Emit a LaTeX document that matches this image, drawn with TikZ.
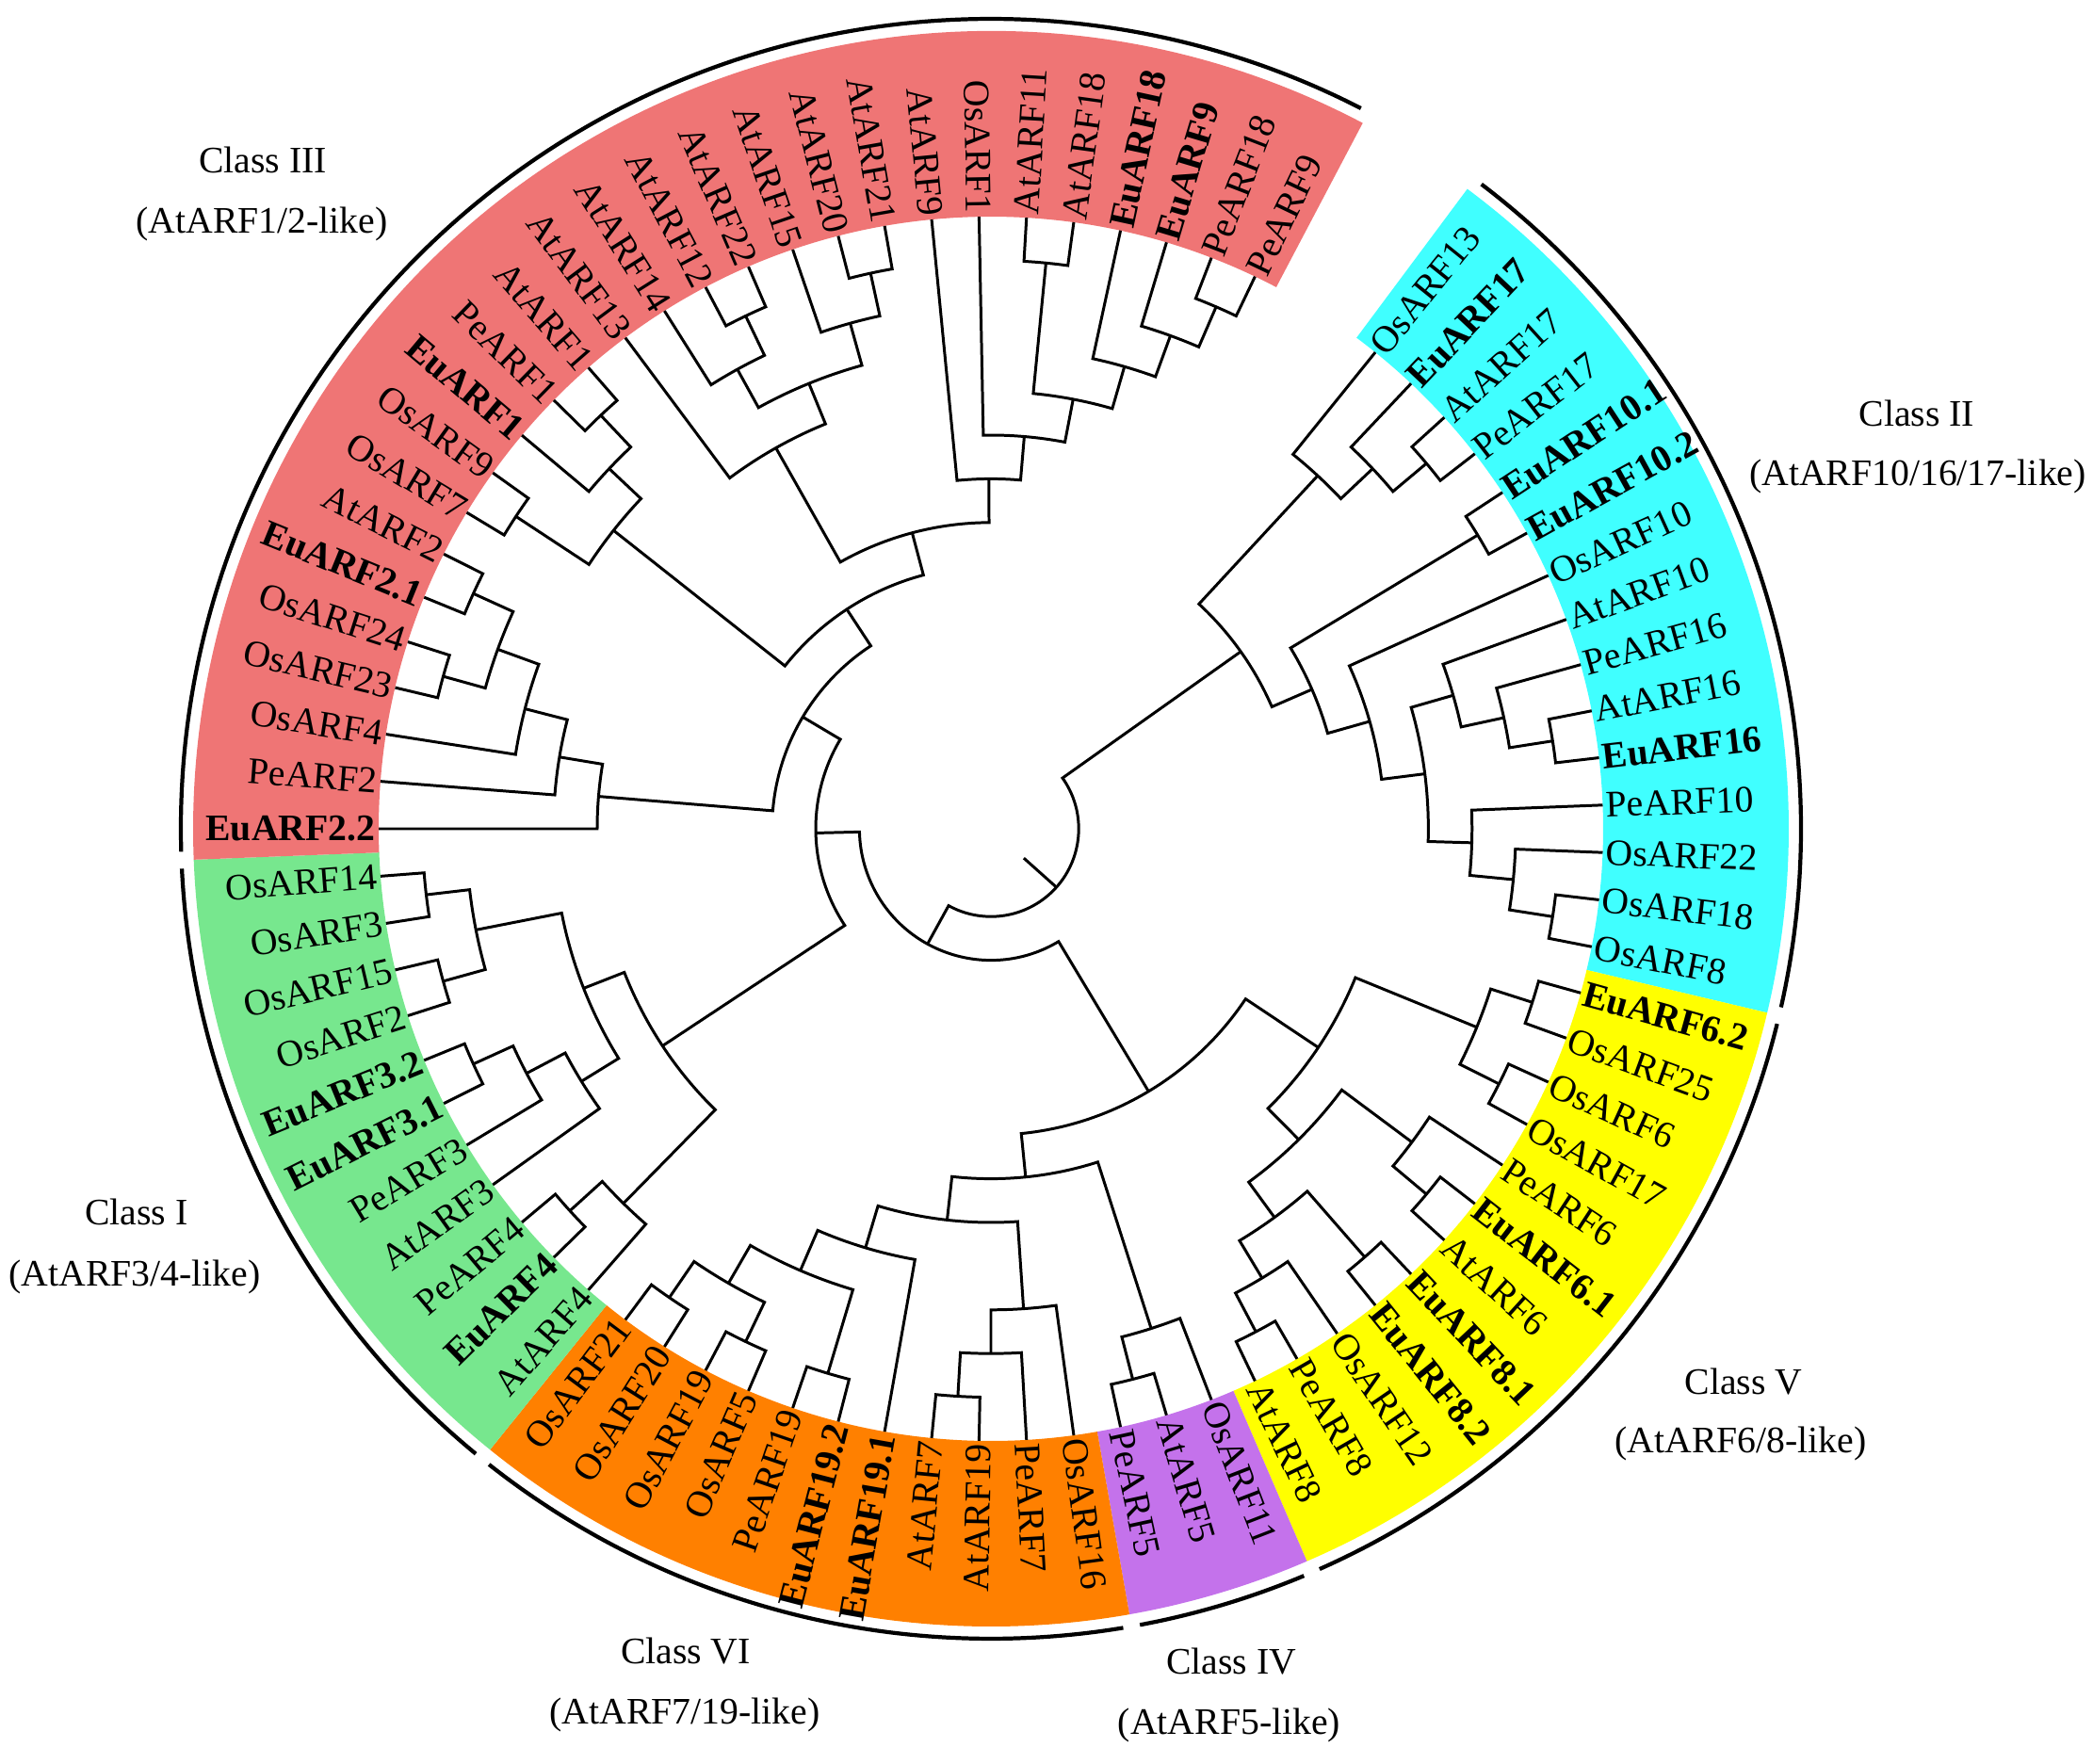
\documentclass[tikz,border=0pt]{standalone}
\usepackage{fontspec}
\setmainfont{Liberation Serif}

\definecolor{bandIII}{RGB}{239,117,117}
\definecolor{bandII}{RGB}{64,255,255}
\definecolor{bandV}{RGB}{255,255,0}
\definecolor{bandIV}{RGB}{196,114,235}
\definecolor{bandVI}{RGB}{255,128,0}
\definecolor{bandI}{RGB}{119,231,142}

\newcommand\rleaf{6.5}
\newcommand\lstep{0.464}
\newcommand\rtext{6.53}
\newcommand\rband{8.47}
\newcommand\rarc{8.6}
\newcommand\dang{4.44444}

\newcommand\leaf[3]{%
  \pgfmathsetmacro\tmpang{180-\dang*#2}%
  \expandafter\xdef\csname ang#1\endcsname{\tmpang}%
  \expandafter\xdef\csname lev#1\endcsname{0}%
  \pgfmathtruncatemacro\tmpflip{abs(mod(\tmpang+540,360)-180)>90}%
  \ifnum\tmpflip=1
    \node[lbl,anchor=east,rotate=\tmpang+180] (#1) at (\tmpang:\rtext) {#3};%
  \else
    \node[lbl,anchor=west,rotate=\tmpang] (#1) at (\tmpang:\rtext) {#3};%
  \fi}

\newcommand\clade[3]{%
  \pgfmathsetmacro\angA{\csname ang#2\endcsname}%
  \pgfmathsetmacro\angB{\csname ang#3\endcsname}%
  \pgfmathsetmacro\radA{\rleaf-\lstep*\csname lev#2\endcsname}%
  \pgfmathsetmacro\radB{\rleaf-\lstep*\csname lev#3\endcsname}%
  \pgfmathtruncatemacro\levN{max(\csname lev#2\endcsname,\csname lev#3\endcsname)+1}%
  \pgfmathsetmacro\radN{\rleaf-\lstep*\levN}%
  \pgfmathsetmacro\angN{(\angA+\angB)/2}%
  \expandafter\xdef\csname ang#1\endcsname{\angN}%
  \expandafter\xdef\csname lev#1\endcsname{\levN}%
  \coordinate (#1) at (\angN:\radN);%
  \draw[branch] (\angA:\radA) -- (\angA:\radN)
    arc[start angle=\angA, end angle=\angB, radius=\radN] -- (\angB:\radB);}

\newcommand\classband[3]{%
  \pgfmathsetmacro\bA{180-\dang*#2}%
  \pgfmathsetmacro\bB{180-\dang*#3}%
  \pgfmathsetmacro\cA{\bA-0.6}%
  \pgfmathsetmacro\cB{\bB+0.6}%
  \fill[#1] (\bA:\rleaf) arc[start angle=\bA, end angle=\bB, radius=\rleaf]
    -- (\bB:\rband) arc[start angle=\bB, end angle=\bA, radius=\rband] -- cycle;
  \draw[classarc] (\cA:\rarc) arc[start angle=\cA, end angle=\cB, radius=\rarc];}

\tikzset{
  branch/.style={line width=0.85pt},
  lbl/.style={inner sep=0pt, font=\fontsize{11.3}{13}\selectfont},
  classarc/.style={line width=1.2pt},
  classlbl/.style={inner sep=0pt, font=\fontsize{11.3}{13}\selectfont}
}

\begin{document}
\begin{tikzpicture}
\useasboundingbox (-10.52,-9.93) rectangle (11.70,8.80);

\classband{bandII}{28.5}{43.5}
\classband{bandV}{43.5}{55.5}
\classband{bandIV}{55.5}{58.5}
\classband{bandVI}{58.5}{69.5}
\classband{bandI}{69.5}{80.5}
\classband{bandIII}{80.5}{107.5}

\foreach \name/\txt [count=\p from 29] in {
  OsARF13/OsARF13, EuARF17/\textbf{EuARF17}, AtARF17/AtARF17, PeARF17/PeARF17,
  EuARF10-1/\textbf{EuARF10.1}, EuARF10-2/\textbf{EuARF10.2}, OsARF10/OsARF10,
  AtARF10/AtARF10, PeARF16/PeARF16, AtARF16/AtARF16, EuARF16/\textbf{EuARF16},
  PeARF10/PeARF10, OsARF22/OsARF22, OsARF18/OsARF18, OsARF8/OsARF8,
  EuARF6-2/\textbf{EuARF6.2}, OsARF25/OsARF25, OsARF6/OsARF6, OsARF17/OsARF17,
  PeARF6/PeARF6, EuARF6-1/\textbf{EuARF6.1}, AtARF6/AtARF6,
  EuARF8-1/\textbf{EuARF8.1}, EuARF8-2/\textbf{EuARF8.2}, OsARF12/OsARF12,
  PeARF8/PeARF8, AtARF8/AtARF8,
  OsARF11/OsARF11, AtARF5/AtARF5, PeARF5/PeARF5,
  OsARF16/OsARF16, PeARF7/PeARF7, AtARF19/AtARF19, AtARF7/AtARF7,
  EuARF19-1/\textbf{EuARF19.1}, EuARF19-2/\textbf{EuARF19.2}, PeARF19/PeARF19,
  OsARF5/OsARF5, OsARF19/OsARF19, OsARF20/OsARF20, OsARF21/OsARF21,
  AtARF4/AtARF4, EuARF4/\textbf{EuARF4}, PeARF4/PeARF4, AtARF3/AtARF3,
  PeARF3/PeARF3, EuARF3-1/\textbf{EuARF3.1}, EuARF3-2/\textbf{EuARF3.2},
  OsARF2/OsARF2, OsARF15/OsARF15, OsARF3/OsARF3, OsARF14/OsARF14,
  EuARF2-2/\textbf{EuARF2.2}, PeARF2/PeARF2, OsARF4/OsARF4, OsARF23/OsARF23,
  OsARF24/OsARF24, EuARF2-1/\textbf{EuARF2.1}, AtARF2/AtARF2, OsARF7/OsARF7,
  OsARF9/OsARF9, EuARF1/\textbf{EuARF1}, PeARF1/PeARF1, AtARF1/AtARF1,
  AtARF13/AtARF13, AtARF14/AtARF14, AtARF12/AtARF12, AtARF22/AtARF22,
  AtARF15/AtARF15, AtARF20/AtARF20, AtARF21/AtARF21, AtARF9/AtARF9,
  OsARF1/OsARF1, AtARF11/AtARF11, AtARF18/AtARF18, EuARF18/\textbf{EuARF18},
  EuARF9/\textbf{EuARF9}, PeARF18/PeARF18, PeARF9/PeARF9}
  {\leaf{\name}{\p}{\txt}}

\clade{IIa}{AtARF17}{PeARF17}
\clade{IIb}{EuARF17}{IIa}
\clade{IIc}{OsARF13}{IIb}
\clade{IId}{EuARF10-1}{EuARF10-2}
\clade{IIe}{AtARF16}{EuARF16}
\clade{IIf}{PeARF16}{IIe}
\clade{IIg}{AtARF10}{IIf}
\clade{IIh}{OsARF18}{OsARF8}
\clade{IIi}{OsARF22}{IIh}
\clade{IIj}{PeARF10}{IIi}
\clade{IIk}{IIg}{IIj}
\clade{IIl}{OsARF10}{IIk}
\clade{IIm}{IId}{IIl}
\clade{II}{IIc}{IIm}

\clade{Va}{EuARF6-2}{OsARF25}
\clade{Vb}{OsARF6}{OsARF17}
\clade{Vc}{Va}{Vb}
\clade{Vd}{EuARF6-1}{AtARF6}
\clade{Ve}{PeARF6}{Vd}
\clade{Vf}{EuARF8-1}{EuARF8-2}
\clade{Vg}{PeARF8}{AtARF8}
\clade{Vh}{OsARF12}{Vg}
\clade{Vi}{Vf}{Vh}
\clade{Vj}{Ve}{Vi}
\clade{V}{Vc}{Vj}

\clade{IVa}{AtARF5}{PeARF5}
\clade{IV}{OsARF11}{IVa}

\clade{VIa}{AtARF19}{AtARF7}
\clade{VIb}{PeARF7}{VIa}
\clade{VIc}{OsARF16}{VIb}
\clade{VId}{EuARF19-2}{PeARF19}
\clade{VIe}{OsARF5}{OsARF19}
\clade{VIf}{OsARF20}{OsARF21}
\clade{VIg}{VIe}{VIf}
\clade{VIh}{VId}{VIg}
\clade{VIi}{EuARF19-1}{VIh}
\clade{VI}{VIc}{VIi}
\clade{IVVI}{IV}{VI}
\clade{VIVVI}{V}{IVVI}

\clade{Ia}{EuARF4}{PeARF4}
\clade{Ib}{AtARF4}{Ia}
\clade{Ic}{EuARF3-1}{EuARF3-2}
\clade{Id}{PeARF3}{Ic}
\clade{Ie}{AtARF3}{Id}
\clade{If}{OsARF2}{OsARF15}
\clade{Ig}{OsARF3}{OsARF14}
\clade{Ih}{If}{Ig}
\clade{Ii}{Ie}{Ih}
\clade{I}{Ib}{Ii}

\clade{IIIa}{OsARF23}{OsARF24}
\clade{IIIb}{EuARF2-1}{AtARF2}
\clade{IIIc}{IIIa}{IIIb}
\clade{IIId}{OsARF4}{IIIc}
\clade{IIIe}{PeARF2}{IIId}
\clade{IIIf}{EuARF2-2}{IIIe}
\clade{IIIg}{OsARF7}{OsARF9}
\clade{IIIh}{PeARF1}{AtARF1}
\clade{IIIi}{EuARF1}{IIIh}
\clade{IIIj}{IIIg}{IIIi}
\clade{IIIk}{AtARF12}{AtARF22}
\clade{IIIl}{AtARF14}{IIIk}
\clade{IIIm}{AtARF20}{AtARF21}
\clade{IIIn}{AtARF15}{IIIm}
\clade{IIIo}{IIIl}{IIIn}
\clade{IIIp}{AtARF13}{IIIo}
\clade{IIIq}{AtARF11}{AtARF18}
\clade{IIIr}{PeARF18}{PeARF9}
\clade{IIIs}{EuARF9}{IIIr}
\clade{IIIt}{EuARF18}{IIIs}
\clade{IIIu}{IIIq}{IIIt}
\clade{IIIv}{OsARF1}{IIIu}
\clade{IIIw}{AtARF9}{IIIv}
\clade{IIIx}{IIIp}{IIIw}
\clade{IIIy}{IIIj}{IIIx}
\clade{III}{IIIf}{IIIy}
\clade{IandIII}{I}{III}
\clade{rest}{VIVVI}{IandIII}
\clade{root}{II}{rest}

\pgfmathsetmacro\angR{\csname angroot\endcsname}
\coordinate (stub) at (\angR:{\rleaf-13*\lstep});
\draw[branch] (root) -- (stub);

\node[classlbl] (nameIII) at (-7.73,7.10) {Class III};
\node[classlbl] (typeIII) at (-7.74,6.42) {(AtARF1/2-like)};
\node[classlbl] (nameII) at (9.83,4.41) {Class II};
\node[classlbl] (typeII) at (9.84,3.74) {(AtARF10/16/17-like)};
\node[classlbl] (nameV) at (7.99,-5.87) {Class V};
\node[classlbl] (typeV) at (7.96,-6.53) {(AtARF6/8-like)};
\node[classlbl] (nameIV) at (2.55,-8.84) {Class IV};
\node[classlbl] (typeIV) at (2.53,-9.52) {(AtARF5-like)};
\node[classlbl] (nameVI) at (-3.24,-8.73) {Class VI};
\node[classlbl] (typeVI) at (-3.25,-9.41) {(AtARF7/19-like)};
\node[classlbl] (nameI) at (-9.07,-4.07) {Class I};
\node[classlbl] (typeI) at (-9.09,-4.76) {(AtARF3/4-like)};
\end{tikzpicture}
\end{document}
